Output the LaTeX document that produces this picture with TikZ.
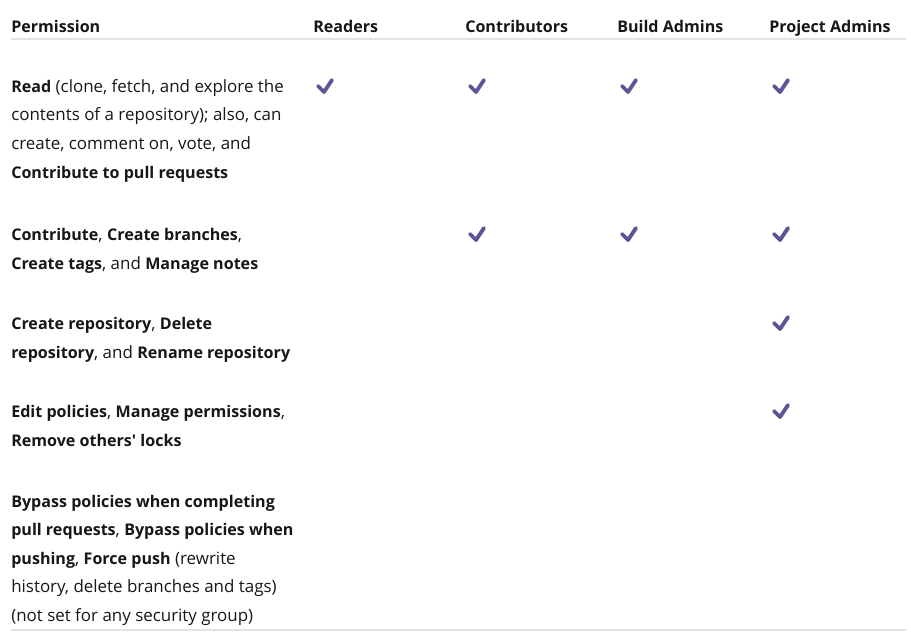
\documentclass[tikz,border=0pt]{standalone}
\usepackage{fontspec}
\setmainfont{Open Sans}[BoldFeatures={Scale=0.95}]
\usetikzlibrary{positioning}
\definecolor{ink}{HTML}{171717}
\definecolor{tickc}{HTML}{5E5596}
\definecolor{rulec}{HTML}{E3E3E3}
\newcommand{\straightq}{{\addfontfeatures{Ligatures=TeXOff}'}}

\begin{document}
\begin{tikzpicture}[x=0.75pt, y=-0.75pt,
        cell/.style={anchor=base west, inner sep=0pt, align=left, text=ink,
            font=\fontsize{12.7}{21.4}\selectfont},
        head/.style={cell, font=\fontsize{12.7}{21.4}\selectfont\bfseries},
        rowline/.style={draw=rulec, line width=0.9pt},
        tick/.pic={\draw[tickc, line width=2.9pt, line cap=round, line join=round]
            (-6,0) -- (0,6) -- (8,-6);}]
        \useasboundingbox (0,0) rectangle (911,640);

        % column heads
        \node[head] (hPerm) at (11,32) {Permission};
        \node[head] (hRead) at (313,32) {Readers};
        \node[head] (hCont) at (465,32) {Contributors};
        \node[head] (hBuild) at (617,32) {Build Admins};
        \node[head] (hProj) at (769,32) {Project Admins};
        \coordinate (topL) at (11,39);
        \coordinate (topR) at (906,39);
        \draw[rowline] (topL) -- (topR);

        % permissions (placed by the baseline of their last line)
        \node[cell] (pRead) at (11,178) {\textbf{Read} (clone, fetch, and explore the\\
            contents of a repository); also, can\\
            create, comment on, vote, and\\
            \textbf{Contribute to pull requests}};
        \node[cell] (pContrib) at (11,269) {\textbf{Contribute}, \textbf{Create branches},\\
            \textbf{Create tags}, and \textbf{Manage notes}};
        \node[cell] (pRepo) at (11,358) {\textbf{Create repository}, \textbf{Delete}\\
            \textbf{repository}, and \textbf{Rename repository}};
        \node[cell] (pPolicy) at (11,446) {\textbf{Edit policies}, \textbf{Manage permissions},\\
            \textbf{Remove others\straightq{} locks}};
        \node[cell] (pBypass) at (11,621.5) {\textbf{Bypass policies when completing}\\
            \textbf{pull requests}, \textbf{Bypass policies when}\\
            \textbf{pushing}, \textbf{Force push} (rewrite\\
            history, delete branches and tags)\\
            (not set for any security group)};
        \coordinate (botL) at (11,630);
        \coordinate (botR) at (906,630);
        \draw[rowline] (botL) -- (botR);

        % ticks
        \foreach \x in {324,476,628,780} \pic at (\x,86) {tick};
        \foreach \x in {476,628,780} \pic at (\x,234) {tick};
        \pic at (780,323) {tick};
        \pic at (780,411) {tick};
    \end{tikzpicture}
\end{document}
